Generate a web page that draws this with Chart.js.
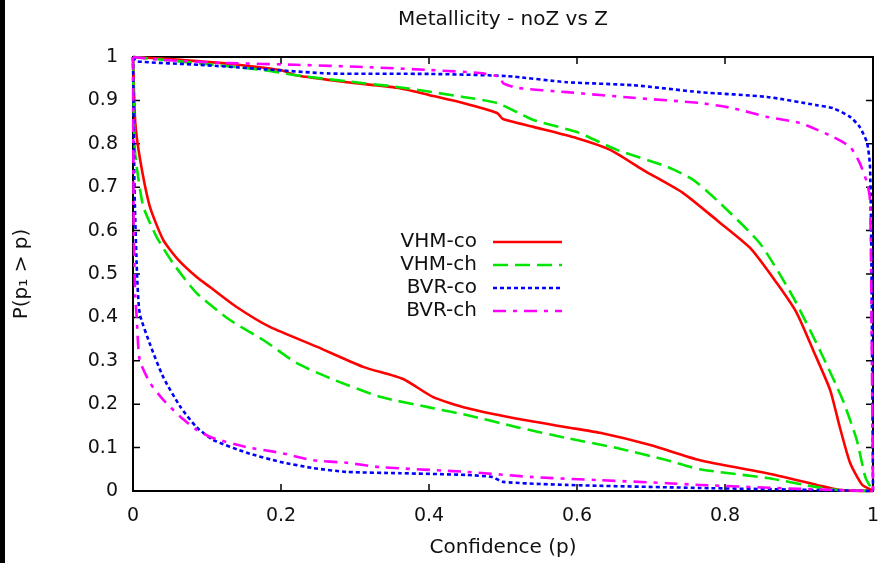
<!DOCTYPE html>
<html>
<head>
<meta charset="utf-8">
<title>Metallicity - noZ vs Z</title>
<script src="https://cdn.jsdelivr.net/npm/chart.js@4"></script>
<style>
    html, body { margin: 0; padding: 0; background: #fff; }
    #wrap { position: relative; width: 883px; height: 563px; }
    #strip { position: absolute; left: 0; top: 0; width: 5px; height: 563px; background: #000; }
</style>
</head>
<body>
<div id="wrap">
    <canvas id="chart" width="883" height="563"></canvas>
    <div id="strip"></div>
</div>
<script>
// Chart text
const chartTitle = "Metallicity - noZ vs Z";
const xTitle = "Confidence (p)";
const yTitle = "P(p\u2081 > p)";
const seriesNames = ["VHM-co", "VHM-ch", "BVR-co", "BVR-ch"];

// Tick values
const xTicks = [0, 0.2, 0.4, 0.6, 0.8, 1];
const yTicks = [0, 0.1, 0.2, 0.3, 0.4, 0.5, 0.6, 0.7, 0.8, 0.9, 1];

// Curves, [p, P] pairs. Each series has a lower and an upper branch.
const vhmCoLower = [[0, 1], [0.003, 0.85], [0.01, 0.76], [0.023, 0.654], [0.041, 0.578], [0.06, 0.535],
    [0.086, 0.493], [0.104, 0.47], [0.14, 0.424], [0.185, 0.378], [0.249, 0.332], [0.311, 0.286],
    [0.365, 0.258], [0.405, 0.217], [0.451, 0.191], [0.514, 0.168], [0.586, 0.147], [0.631, 0.134],
    [0.699, 0.106], [0.766, 0.071], [0.857, 0.041], [0.924, 0.014], [0.955, 0.002], [1, 0]];
const vhmCoUpper = [[0, 1], [0.05, 0.995], [0.131, 0.984], [0.199, 0.97], [0.22, 0.958], [0.289, 0.942],
    [0.357, 0.929], [0.401, 0.912], [0.446, 0.894], [0.492, 0.871], [0.5, 0.857], [0.541, 0.839],
    [0.6, 0.813], [0.645, 0.786], [0.689, 0.74], [0.743, 0.687], [0.789, 0.624], [0.834, 0.56],
    [0.87, 0.479], [0.897, 0.41], [0.919, 0.325], [0.942, 0.233], [0.955, 0.148], [0.969, 0.065],
    [0.985, 0.015], [1, 0]];
const vhmChLower = [[0, 1], [0.002, 0.8], [0.005, 0.747], [0.014, 0.655], [0.032, 0.585], [0.054, 0.525],
    [0.086, 0.456], [0.131, 0.394], [0.176, 0.348], [0.221, 0.295], [0.266, 0.26], [0.334, 0.217],
    [0.405, 0.191], [0.451, 0.175], [0.519, 0.147], [0.586, 0.122], [0.654, 0.099], [0.722, 0.071],
    [0.766, 0.05], [0.857, 0.03], [0.924, 0.009], [0.955, 0.002], [1, 0]];
const vhmChUpper = [[0, 1], [0.05, 0.992], [0.108, 0.982], [0.176, 0.97], [0.22, 0.958], [0.289, 0.944],
    [0.357, 0.931], [0.446, 0.908], [0.492, 0.894], [0.541, 0.855], [0.6, 0.827], [0.654, 0.786],
    [0.722, 0.747], [0.757, 0.717], [0.789, 0.67], [0.847, 0.571], [0.892, 0.447], [0.928, 0.325],
    [0.959, 0.21], [0.978, 0.118], [0.99, 0.03], [1, 0]];
const bvrCoLower = [[0, 1], [0.002, 0.7], [0.005, 0.52], [0.009, 0.41], [0.023, 0.338], [0.041, 0.262],
    [0.064, 0.194], [0.086, 0.147], [0.108, 0.118], [0.154, 0.088], [0.199, 0.067], [0.243, 0.053],
    [0.289, 0.044], [0.361, 0.041], [0.451, 0.037], [0.486, 0.032], [0.5, 0.021], [0.586, 0.014],
    [0.766, 0.007], [0.9, 0.003], [1, 0]];
const bvrCoUpper = [[0, 1], [0.005, 0.99], [0.09, 0.982], [0.176, 0.972], [0.266, 0.962], [0.401, 0.961],
    [0.505, 0.956], [0.586, 0.942], [0.676, 0.935], [0.766, 0.919], [0.857, 0.908], [0.924, 0.889],
    [0.946, 0.882], [0.969, 0.862], [0.982, 0.839], [0.992, 0.802], [0.996, 0.747], [0.998, 0.5],
    [1, 0]];
const bvrChLower = [[0, 1], [0.001, 0.6], [0.003, 0.45], [0.005, 0.4], [0.009, 0.302], [0.023, 0.249],
    [0.041, 0.21], [0.064, 0.171], [0.086, 0.141], [0.108, 0.122], [0.154, 0.101], [0.199, 0.088],
    [0.243, 0.071], [0.289, 0.065], [0.334, 0.055], [0.451, 0.044], [0.541, 0.032], [0.631, 0.025],
    [0.722, 0.018], [0.766, 0.014], [0.9, 0.005], [1, 0]];
const bvrChUpper = [[0, 1], [0.041, 0.993], [0.131, 0.986], [0.22, 0.982], [0.311, 0.977], [0.401, 0.97],
    [0.469, 0.963], [0.496, 0.954], [0.5, 0.94], [0.519, 0.929], [0.586, 0.919], [0.676, 0.906],
    [0.766, 0.894], [0.811, 0.882], [0.857, 0.862], [0.901, 0.848], [0.946, 0.816], [0.969, 0.793],
    [0.982, 0.756], [0.992, 0.71], [0.996, 0.67], [0.998, 0.4], [1, 0]];

const seriesCurves = [
    [vhmCoLower, vhmCoUpper],
    [vhmChLower, vhmChUpper],
    [bvrCoLower, bvrCoUpper],
    [bvrChLower, bvrChUpper]
];

// line styles, gnuplot-like
const styles = [
    { color: "#ff0000", dash: [], width: 2.6, order: 4 },
    { color: "#00e600", dash: [15, 7], width: 2.6, order: 3 },
    { color: "#0000ff", dash: [4, 3], width: 2.6, order: 2 },
    { color: "#ff00ff", dash: [13, 7, 4, 7], width: 2.6, order: 1 }
];

const FONT = "'DejaVu Sans', sans-serif";

function toPoints(pairs) {
    return pairs.map(p => ({ x: p[0], y: p[1] }));
}

const datasets = [];
seriesCurves.forEach((branches, i) => {
    branches.forEach(branch => {
        datasets.push({
            label: seriesNames[i],
            data: toPoints(branch),
            showLine: true,
            borderColor: styles[i].color,
            backgroundColor: styles[i].color,
            borderWidth: styles[i].width,
            borderDash: styles[i].dash,
            pointRadius: 0,
            tension: 0.2,
            clip: false,
            order: styles[i].order
        });
    });
});

// frame, inward mirror ticks, title and the in-plot legend
const gnuplotLook = {
    id: "gnuplotLook",
    beforeDatasetsDraw(chart) {
        const ctx = chart.ctx;
        const a = chart.chartArea;
        const xs = chart.scales.x, ys = chart.scales.y;
        ctx.save();
        ctx.strokeStyle = "#000";
        ctx.lineWidth = 1.5;
        const len = 7;
        ctx.beginPath();
        xTicks.forEach(v => {
            const px = xs.getPixelForValue(v);
            ctx.moveTo(px, a.bottom); ctx.lineTo(px, a.bottom - len);
            ctx.moveTo(px, a.top); ctx.lineTo(px, a.top + len);
        });
        yTicks.forEach(v => {
            const py = ys.getPixelForValue(v);
            ctx.moveTo(a.left, py); ctx.lineTo(a.left + len, py);
            ctx.moveTo(a.right, py); ctx.lineTo(a.right - len, py);
        });
        ctx.stroke();
        ctx.lineWidth = 2;
        ctx.strokeRect(a.left, a.top, a.right - a.left, a.bottom - a.top);

        // title
        ctx.fillStyle = "#111";
        ctx.font = "20px " + FONT;
        ctx.textAlign = "center";
        ctx.textBaseline = "middle";
        ctx.fillText(chartTitle, (a.left + a.right) / 2, 20);
        ctx.restore();
    },
    afterDatasetsDraw(chart) {
        const ctx = chart.ctx;
        ctx.save();
        ctx.font = "20px " + FONT;
        ctx.textAlign = "right";
        ctx.textBaseline = "middle";
        const textRight = 477, lineStart = 493, lineEnd = 562;
        const rowTop = 242, rowGap = 23;
        seriesNames.forEach((name, i) => {
            const y = rowTop + i * rowGap;
            ctx.fillStyle = "#111";
            ctx.fillText(name, textRight, y);
            ctx.strokeStyle = styles[i].color;
            ctx.lineWidth = styles[i].width;
            ctx.setLineDash(styles[i].dash);
            ctx.beginPath();
            ctx.moveTo(lineStart, y);
            ctx.lineTo(lineEnd, y);
            ctx.stroke();
        });
        ctx.restore();
    }
};

new Chart(document.getElementById("chart"), {
    type: "scatter",
    data: { datasets: datasets },
    options: {
        responsive: false,
        animation: false,
        devicePixelRatio: 1,
        layout: { padding: { left: 0, top: 57, right: 10, bottom: 0 } },
        plugins: {
            legend: { display: false },
            title: { display: false },
            tooltip: { enabled: false }
        },
        scales: {
            x: {
                type: "linear",
                min: 0,
                max: 1,
                afterBuildTicks: scale => { scale.ticks = xTicks.map(v => ({ value: v })); },
                afterFit: scale => {
                    scale.height = 72;
                    scale.paddingLeft = 0;
                    scale.paddingRight = 0;
                },
                grid: { display: false, drawTicks: false },
                border: { display: false },
                ticks: {
                    padding: 14,
                    color: "#111",
                    font: { family: FONT, size: 19 },
                    maxRotation: 0,
                    callback: v => String(v)
                },
                title: {
                    display: true,
                    text: xTitle,
                    color: "#111",
                    font: { family: FONT, size: 20 },
                    padding: { top: 0, bottom: 3 }
                }
            },
            y: {
                type: "linear",
                min: 0,
                max: 1,
                afterBuildTicks: scale => { scale.ticks = yTicks.map(v => ({ value: v })); },
                afterFit: scale => {
                    scale.width = 133;
                    scale.paddingTop = 0;
                    scale.paddingBottom = 0;
                },
                grid: { display: false, drawTicks: false },
                border: { display: false },
                ticks: {
                    padding: 15,
                    color: "#111",
                    font: { family: FONT, size: 19 },
                    callback: v => String(v)
                },
                title: {
                    display: true,
                    text: yTitle,
                    color: "#111",
                    font: { family: FONT, size: 20 },
                    padding: { top: 10, bottom: 0 }
                }
            }
        }
    },
    plugins: [gnuplotLook]
});
</script>
</body>
</html>
